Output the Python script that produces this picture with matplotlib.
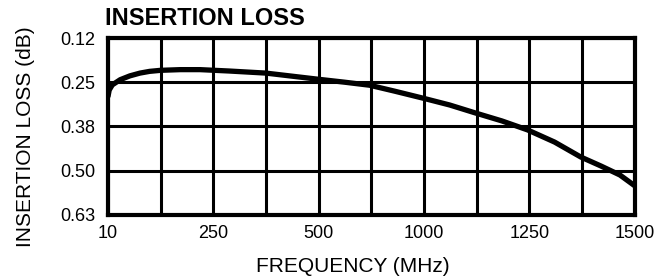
import numpy as np
import matplotlib
matplotlib.use("Agg")
import matplotlib.pyplot as plt

plt.rcParams['font.family'] = ['Liberation Sans', 'DejaVu Sans']

# frequency axis in the datasheet is not linear: each labelled tick sits 2 grid columns apart
tick_freqs = [10, 250, 500, 1000, 1250, 1500]
tick_pos = [0, 2, 4, 6, 8, 10]
loss_ticks = [0.12, 0.2475, 0.375, 0.5025, 0.63]
loss_labels = ['0.12', '0.25', '0.38', '0.50', '0.63']

# curve
freq = [10, 13, 20, 38, 60, 83, 105, 130, 175, 220, 288, 375, 494, 620, 742, 860, 1000,
        1061, 1122, 1185, 1246, 1310, 1372, 1420, 1465, 1500]
loss = [0.290, 0.270, 0.255, 0.240, 0.229, 0.221, 0.216, 0.213, 0.211, 0.211, 0.215, 0.221,
        0.238, 0.247, 0.256, 0.273, 0.294, 0.313, 0.336, 0.359, 0.385, 0.420, 0.463,
        0.489, 0.515, 0.546]

def fwd(x):
    return np.interp(x, tick_freqs, tick_pos)

def inv(p):
    return np.interp(p, tick_pos, tick_freqs)

fig = plt.figure(figsize=(6.66, 2.78), dpi=100)
ax = fig.add_axes([0.162, 0.227, 0.791, 0.636])
ax.set_xscale('function', functions=(fwd, inv))

ax.plot(freq, loss, color='black', lw=3.8, solid_capstyle='butt', solid_joinstyle='round')

ax.set_xlim(10, 1500)
ax.set_ylim(0.63, 0.12)
ax.set_xticks(tick_freqs)
ax.set_xticklabels([str(f) for f in tick_freqs])
ax.set_xticks(inv(np.arange(1, 10, 2)), minor=True)
ax.set_yticks(loss_ticks)
ax.set_yticklabels(loss_labels)
ax.tick_params(axis='both', which='both', length=0, labelsize=13)
ax.tick_params(axis='x', pad=7)
ax.tick_params(axis='y', pad=9)
ax.grid(True, which='both', color='black', lw=2.2)
for s in ax.spines.values():
    s.set_linewidth(3.0)

fig.text(0.158, 0.932, 'INSERTION LOSS', fontsize=17, fontweight='bold', ha='left', va='center')
fig.text(0.529, 0.043, 'FREQUENCY (MHz)', fontsize=15, ha='center', va='center')
fig.text(0.038, 0.507, 'INSERTION LOSS (dB)', fontsize=15, rotation=90, ha='center', va='center')

fig.savefig('out.png', dpi=100)
